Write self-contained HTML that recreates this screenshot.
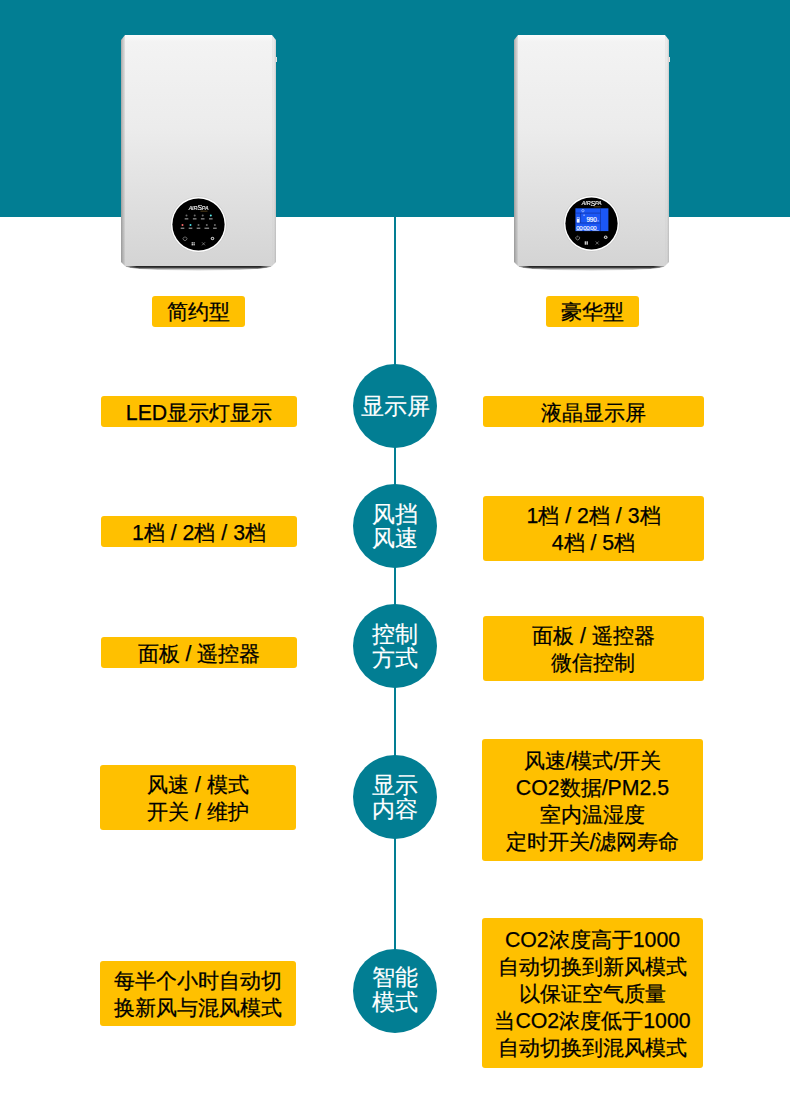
<!DOCTYPE html>
<html><head><meta charset="utf-8">
<style>
*{margin:0;padding:0;box-sizing:border-box}
html,body{width:790px;height:1100px;overflow:hidden;background:#fff}
body{position:relative;font-family:"Liberation Sans",sans-serif;color:#000}
.band{position:absolute;left:0;top:0;width:790px;height:217px;background:#027e93}
.vline{position:absolute;left:394px;top:217px;width:2px;height:740px;background:#027e93}
.c{position:absolute;left:353px;width:84px;height:84px;border-radius:50%;background:#027e93;color:#fff;font-size:23px;line-height:24.5px;-webkit-text-stroke:.15px #fff;display:flex;align-items:center;justify-content:center;text-align:center}
.y{position:absolute;background:#ffc000;border-radius:3px;font-size:21.3px;line-height:27px;display:flex;align-items:center;justify-content:center;text-align:center;white-space:nowrap;-webkit-text-stroke:.25px #000;padding-top:3px}
.L{left:101px;width:196px}
.R{left:483px;width:221px}

.dev{position:absolute;top:35px;width:155px;height:231px}
.dev .shadow{position:absolute;left:4px;width:147px;top:231px;height:5px;background:linear-gradient(180deg,rgba(0,0,0,.9) 0,rgba(0,0,0,.75) 30%,rgba(0,0,0,.25) 65%,rgba(0,0,0,0) 100%);-webkit-mask-image:linear-gradient(90deg,rgba(0,0,0,.3) 0,#000 8%,#000 92%,rgba(0,0,0,.3) 100%);border-radius:0 0 50% 50%/0 0 100% 100%}
.dev .body{position:absolute;left:0;top:0;width:155px;height:231px;background:linear-gradient(180deg,rgba(0,0,0,0) 0,rgba(0,0,0,.02) 40%,rgba(0,0,0,.1) 100%),linear-gradient(90deg,#a8a8a8 0,#c0c0c0 1.5px,#d4d4d4 3px,#e4e4e4 4px,#e4e4e4 151px,#eeeeee 152px,#e0e0e0 154px,#cacaca 155px);clip-path:polygon(4px 0,151px 0,155px 5px,155px 227px,151px 231px,4px 231px,0 227px,0 5px)}
.dev .face{position:absolute;left:4px;top:0;width:147px;height:231px;background:linear-gradient(180deg,#fbfbfb 0,#f3f3f3 3%,#ececec 40%,#d4d4d4 100%)}
.dev .btn{position:absolute;left:155px;top:22px;width:1px;height:5px;background:#e4e4e4}
.dev svg{position:absolute;left:0;top:0}
</style></head><body>
<div class="band"></div>
<div class="vline"></div>

<div class="dev" style="left:121px">
 <div class="body"></div>
 <div class="face"></div>
 <div class="shadow"></div>
 <div class="btn"></div>
 <svg width="55" height="55" viewBox="0 0 55 55" style="left:49.5px;top:162px;overflow:visible"><circle cx="27.5" cy="27.5" r="28.2" fill="#c0c0c0" opacity=".5"/><circle cx="27.5" cy="27.5" r="27.5" fill="#fff"/><circle cx="27.5" cy="27.5" r="26.1" fill="#000"/><g opacity=".97"><text x="27.5" y="12.6" text-anchor="middle" font-family="Liberation Sans" font-style="italic" font-size="5.4" fill="#fff" stroke="#fff" stroke-width=".12" letter-spacing="-.15">AIR<tspan font-size="7.2" dy=".6">S</tspan><tspan dy="-.6">PA</tspan></text><rect x="29.5" y="13.799999999999999" width="7" height=".6" fill="#8a6a2a"/></g><circle cx="15.5" cy="18.6" r="1.0" fill="#6a6a6a"/><rect x="13.7" y="21.2" width="3.6" height="1.3" fill="#8a8a8a"/><circle cx="23.7" cy="18.6" r="1.0" fill="#6a6a6a"/><rect x="21.9" y="21.2" width="3.6" height="1.3" fill="#8a8a8a"/><circle cx="31.7" cy="18.6" r="1.0" fill="#6a6a6a"/><rect x="29.9" y="21.2" width="3.6" height="1.3" fill="#8a8a8a"/><circle cx="39.8" cy="18.6" r="1.0" fill="#5ef0f0"/><rect x="38.0" y="21.2" width="3.6" height="1.3" fill="#8a8a8a"/><circle cx="11.5" cy="28.1" r="1.0" fill="#ff6a6a"/><rect x="9.7" y="30.6" width="3.6" height="1.3" fill="#8a8a8a"/><circle cx="19.5" cy="28.1" r="1.0" fill="#45e0e8"/><rect x="17.7" y="30.6" width="3.6" height="1.3" fill="#8a8a8a"/><circle cx="27.5" cy="28.1" r="1.0" fill="#6a6a6a"/><rect x="25.7" y="30.6" width="3.6" height="1.3" fill="#8a8a8a"/><circle cx="35.8" cy="28.1" r="1.0" fill="#6a6a6a"/><rect x="33.5" y="30.6" width="4.6" height="1.3" fill="#8a8a8a"/><circle cx="43.9" cy="28.1" r="1.0" fill="#6a6a6a"/><rect x="42.1" y="30.6" width="3.6" height="1.3" fill="#8a8a8a"/><g fill="none" stroke="#b0b0b0" stroke-width=".6"><path d="M12.8 40.2a1.9 1.9 0 1 0 2.4 0"/><path d="M14 39.3v1.8"/></g><circle cx="41.5" cy="41.5" r="1.8" fill="#b8b8b8"/><circle cx="41.5" cy="41.5" r=".7" fill="#000"/><g fill="#c8c8c8"><rect x="20.6" y="45.2" width="1.4" height="1.4"/><rect x="22.4" y="45.2" width="1.4" height="1.4"/><rect x="20.6" y="47" width="1.4" height="1.4"/><rect x="22.4" y="47" width="1.4" height="1.4"/></g><g stroke="#b8b8b8" stroke-width=".55" fill="none"><path d="M31 45.3l1.5 1.5l1.5-1.5M31 48.3l1.5-1.5l1.5 1.5"/></g></svg>
</div>
<div class="dev" style="left:514px">
 <div class="body"></div>
 <div class="face"></div>
 <div class="shadow"></div>
 <div class="btn"></div>
 <svg width="55" height="55" viewBox="0 0 55 55" style="left:49.6px;top:161.2px;overflow:visible"><circle cx="27.5" cy="27.5" r="28.2" fill="#c0c0c0" opacity=".5"/><circle cx="27.5" cy="27.5" r="27.5" fill="#fff"/><circle cx="27.5" cy="27.5" r="26.1" fill="#000"/><g opacity=".97"><text x="27.7" y="9.4" text-anchor="middle" font-family="Liberation Sans" font-style="italic" font-size="5.4" fill="#fff" stroke="#fff" stroke-width=".12" letter-spacing="-.15">AIR<tspan font-size="7.2" dy=".6">S</tspan><tspan dy="-.6">PA</tspan></text><rect x="29.7" y="10.6" width="7" height=".6" fill="#8a6a2a"/></g><rect x="11.4" y="12.3" width="33" height="22.8" fill="#1b57f5"/><g stroke="#0c2a8c" stroke-width=".55"><path d="M11.4 17.1h25.1M11.4 27h25.1M36.5 12.3v22.8M16.6 17.1v9.9"/></g><circle cx="18.9" cy="14.7" r="1.2" fill="none" stroke="#d8e6ff" stroke-width=".55"/><rect x="12.8" y="21.3" width="2.8" height="5.3" fill="#eef3ff"/><rect x="13.2" y="21.8" width="2" height="1" fill="#1b57f5"/><rect x="19.2" y="18.8" width="1.8" height=".6" fill="#fff"/><text x="22.5" y="26.2" font-family="Liberation Sans" font-size="6.4" fill="#fff" stroke="#fff" stroke-width=".15" letter-spacing="-.2">990</text><rect x="33.5" y="24.6" width="1.3" height=".7" fill="#fff"/><text x="12.3" y="33.6" font-family="Liberation Sans" font-size="6" fill="#fff" stroke="#fff" stroke-width=".12" letter-spacing="-.45">00:00:00</text><g fill="#dfe8ff"><rect x="12.3" y="34.2" width="6" height=".5"/><rect x="20.3" y="34.2" width="6" height=".5"/><rect x="28.3" y="34.2" width="6.5" height=".5"/></g><g fill="none" stroke="#b8b8b8" stroke-width=".6"><path d="M12.5 40.5a1.9 1.9 0 1 0 2.4 0"/><path d="M13.7 39.6v1.8"/></g><circle cx="41.7" cy="41.3" r="1.8" fill="#c8c8c8"/><circle cx="41.7" cy="41.3" r=".7" fill="#000"/><g fill="#d0d0d0"><rect x="20.7" y="45.3" width="1.4" height="3.4"/><rect x="22.5" y="45.3" width="1.4" height="3.4"/></g><g stroke="#c0c0c0" stroke-width=".55" fill="none"><path d="M31.7 45.5l1.5 1.5l1.5-1.5M31.7 48.5l1.5-1.5l1.5 1.5"/></g></svg>
</div>

<div class="y" style="left:152px;top:296px;width:93px;height:31px;padding-top:1px">简约型</div>
<div class="y" style="left:546px;top:296px;width:93px;height:31px;padding-top:1px">豪华型</div>

<div class="c" style="top:364px">显示屏</div>
<div class="c" style="top:484px">风挡<br>风速</div>
<div class="c" style="top:604px">控制<br>方式</div>
<div class="c" style="top:755px">显示<br>内容</div>
<div class="c" style="top:949px;padding-bottom:3px">智能<br>模式</div>

<div class="y L" style="top:396px;height:31px">LED显示灯显示</div>
<div class="y R" style="top:396px;height:31px">液晶显示屏</div>

<div class="y L" style="top:516px;height:31px">1档 / 2档 / 3档</div>
<div class="y R" style="top:496px;height:65px">1档 / 2档 / 3档<br>4档 / 5档</div>

<div class="y L" style="top:637px;height:31px">面板 / 遥控器</div>
<div class="y R" style="top:616px;height:65px">面板 / 遥控器<br>微信控制</div>

<div class="y L" style="top:765px;height:65px;left:100px">风速 / 模式<br>开关 / 维护</div>
<div class="y R" style="left:482px;top:739px;height:122px;padding-top:3px">风速/模式/开关<br>CO2数据/PM2.5<br>室内温湿度<br>定时开关/滤网寿命</div>

<div class="y L" style="top:961px;height:65px;left:100px">每半个小时自动切<br>换新风与混风模式</div>
<div class="y R" style="left:482px;top:918px;height:150px;padding-top:3px">CO2浓度高于1000<br>自动切换到新风模式<br>以保证空气质量<br>当CO2浓度低于1000<br>自动切换到混风模式</div>
</body></html>
